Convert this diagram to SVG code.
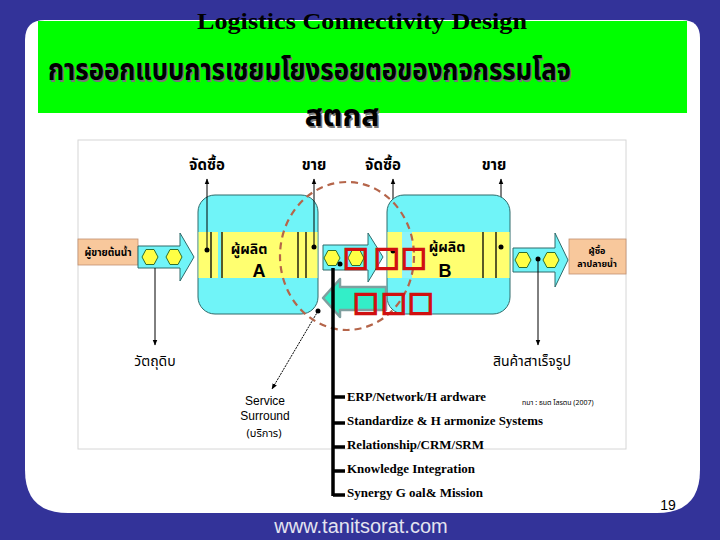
<svg xmlns="http://www.w3.org/2000/svg" width="720" height="540" viewBox="0 0 720 540">
<defs>
<style>
.cy{fill:#70F4F8;stroke:#2F6A6A;stroke-width:1}
.yl{fill:#FFFF70}
.bl{stroke:#000;stroke-width:1.3}
.pe{fill:#F8C89C;stroke:#C09070;stroke-width:0.8}
.th{font-family:"Noto Sans Thai","Noto Serif Thai","Loma","Garuda","Liberation Serif","DejaVu Serif",serif;fill:#000}
.sv{font-family:"Liberation Sans",Arial,sans-serif;fill:#000}
.bt{font-family:"Liberation Serif","Times New Roman",serif;font-weight:bold;font-size:13px;fill:#000}
.ln{stroke:#000;stroke-width:1;fill:none}
.rb{font-family:"DejaVu Sans",sans-serif;fill:#D01010;stroke:#D01010;stroke-width:1.8}
</style>
<marker id="ah" viewBox="0 0 10 10" refX="9" refY="5" markerWidth="6" markerHeight="6" orient="auto" markerUnits="userSpaceOnUse">
<path d="M0,1 L10,5 L0,9 Z" fill="#000"/>
</marker>
<polygon id="hex" points="-8,0 -4,-7.5 4,-7.5 8,0 4,7.5 -4,7.5" fill="#FFFF44" stroke="#2F6F2F" stroke-width="1"/>
</defs>

<rect x="0" y="0" width="720" height="540" fill="#333399"/>
<path d="M45,20 H682 Q700,20 700,38 V470 Q700,513 657,513 H68 Q25,513 25,470 V40 Q25,20 45,20 Z" fill="#FFFFFF"/>
<rect x="38" y="21" width="649" height="92" fill="#00FF00"/>

<g id="title">
<text x="362" y="29" text-anchor="middle" font-family="Liberation Serif,serif" font-weight="bold" font-size="23" textLength="330" lengthAdjust="spacingAndGlyphs">Logistics Connectivity Design</text>
<text x="49.5" y="81.5" class="th" font-weight="bold" font-size="30" style="fill:#777" textLength="523" lengthAdjust="spacingAndGlyphs">การออกแบบการเชยมโยงรอยตอของกจกรรมโลจ</text>
<text x="48" y="80" class="th" font-weight="bold" font-size="30" textLength="523" lengthAdjust="spacingAndGlyphs">การออกแบบการเชยมโยงรอยตอของกจกรรมโลจ</text>
<text x="343.5" y="127.5" class="th" font-weight="bold" font-size="30" text-anchor="middle" style="fill:#777">สตกส</text>
<text x="342" y="126" class="th" font-weight="bold" font-size="30" text-anchor="middle">สตกส</text>
</g>

<rect x="78" y="140" width="548" height="309" fill="#FFFFFF" stroke="#D6D6D6" stroke-width="1"/>

<g id="connectors-under">
<line x1="393" y1="251" x2="393" y2="179" class="ln" marker-end="url(#ah)"/>
<line x1="501" y1="247" x2="501" y2="179" class="ln" marker-end="url(#ah)"/>
</g>

<g id="node-A">
<rect x="198" y="195" width="120" height="119" rx="17" class="cy"/>
<rect x="198.5" y="232" width="119" height="46" class="yl"/>
<rect x="218" y="232" width="3" height="46" fill="#70F4F8"/>
<line x1="211" y1="232" x2="211" y2="278" class="bl"/>
<line x1="222" y1="232" x2="222" y2="278" class="bl"/>
<line x1="298" y1="232" x2="298" y2="278" class="bl"/>
<line x1="306" y1="232" x2="306" y2="278" class="bl"/>
<text x="249" y="254" class="th" font-weight="bold" font-size="14" text-anchor="middle">ผู้ผลิต</text>
<text x="259" y="277" class="sv" font-weight="bold" font-size="18" text-anchor="middle">A</text>
</g>

<g id="node-B">
<rect x="387" y="195" width="123" height="119" rx="17" class="cy"/>
<rect x="387.5" y="232" width="122" height="46" class="yl"/>
<rect x="402" y="232" width="10" height="46" fill="#8CF4F8"/>
<line x1="483" y1="232" x2="483" y2="278" class="bl"/>
<line x1="496" y1="232" x2="496" y2="278" class="bl"/>
<text x="447" y="252" class="th" font-weight="bold" font-size="14" text-anchor="middle">ผู้ผลิต</text>
<text x="445" y="277" class="sv" font-weight="bold" font-size="18" text-anchor="middle">B</text>
</g>

<g id="node-supplier">
<rect x="78" y="239" width="60" height="26" class="pe"/>
<text x="108" y="256" class="th" font-weight="bold" font-size="10" text-anchor="middle">ผู้ขายต้นน้ำ</text>
</g>

<g id="node-customer">
<rect x="569" y="239" width="57" height="35" class="pe"/>
<text x="597" y="254" class="th" font-weight="bold" font-size="9" text-anchor="middle">ผู้ซื้อ</text>
<text x="597" y="267" class="th" font-weight="bold" font-size="9" text-anchor="middle">ลาปลายน้ำ</text>
</g>

<g id="flow-in">
<path d="M138,246 H180 V233 L194,257 L180,281 V268 H138 Z" class="cy"/>
<use href="#hex" x="150" y="257"/>
<use href="#hex" x="174" y="257"/>
</g>

<g id="flow-mid">
<path d="M323,245 H368 V233 L383,257 L368,282 V270 H323 Z" class="cy"/>
<use href="#hex" x="332" y="258"/>
<use href="#hex" x="356" y="258"/>
</g>

<g id="flow-out">
<path d="M513,248 H555 V233 L568,260 L555,287 V272 H513 Z" class="cy"/>
<use href="#hex" x="523" y="260"/>
<use href="#hex" x="551" y="260"/>
</g>

<g id="return-arrow">
<path d="M323,298 L340,279 V287 H386 V310 H340 V317 Z" fill="#33EEC8" stroke="#7F9F9F" stroke-width="2.5" stroke-linejoin="round"/>
</g>

<g id="connectors">
<line x1="207" y1="250" x2="207" y2="179" class="ln" marker-end="url(#ah)"/>
<line x1="314" y1="247" x2="314" y2="179" class="ln" marker-end="url(#ah)"/>
<line x1="155" y1="268" x2="155" y2="345" class="ln" marker-end="url(#ah)"/>
<line x1="538" y1="259" x2="538" y2="345" class="ln" marker-end="url(#ah)"/>
<line x1="318" y1="311" x2="272" y2="389" class="ln" stroke-dasharray="2 1" marker-end="url(#ah)"/>
<circle cx="207" cy="250" r="2.5"/>
<circle cx="314" cy="247" r="2.5"/>
<circle cx="393" cy="251" r="2.5"/>
<circle cx="501" cy="247" r="2.5"/>
<circle cx="340" cy="264" r="2.5"/>
<circle cx="538" cy="259" r="2.5"/>
<circle cx="318" cy="311" r="2.5"/>
<ellipse cx="347" cy="256" rx="67" ry="74" fill="none" stroke="#B5654A" stroke-width="2.2" stroke-dasharray="7 5"/>
<path d="M333,268 V496 M333,397 H345 M333,423 H345 M333,447 H345 M333,471 H345 M333,495 H345" fill="none" stroke="#000" stroke-width="3.5"/>
</g>

<g id="labels">
<text x="207" y="170" class="th" font-weight="bold" font-size="15" text-anchor="middle">จัดซื้อ</text>
<text x="314" y="170" class="th" font-weight="bold" font-size="15" text-anchor="middle">ขาย</text>
<text x="383" y="170" class="th" font-weight="bold" font-size="15" text-anchor="middle">จัดซื้อ</text>
<text x="494" y="170" class="th" font-weight="bold" font-size="15" text-anchor="middle">ขาย</text>
<text x="155" y="366" class="th" font-size="14" text-anchor="middle">วัตถุดิบ</text>
<text x="532" y="366" class="th" font-size="14" text-anchor="middle">สินค้าสาเร็จรูป</text>
<text x="265" y="405" class="sv" font-size="12" text-anchor="middle">Service</text>
<text x="265" y="420" class="sv" font-size="12" text-anchor="middle">Surround</text>
<text x="264" y="437" class="th" font-size="11" text-anchor="middle">(บริการ)</text>
<text x="522" y="405" class="th" font-size="7">ทมา  : ธนต  โสรตน   (2007)</text>
</g>

<g id="red-boxes">
<text x="343 374 401" y="266" class="rb" font-size="27">□□□</text>
<text x="353 381 408" y="311" class="rb" font-size="27">□□□</text>
</g>

<g id="list">
<text x="347" y="401" class="bt" textLength="139" lengthAdjust="spacingAndGlyphs">ERP/Network/H ardware</text>
<text x="347" y="425" class="bt" textLength="196" lengthAdjust="spacingAndGlyphs">Standardize &amp; H armonize Systems</text>
<text x="347" y="449" class="bt" textLength="137" lengthAdjust="spacingAndGlyphs">Relationship/CRM/SRM</text>
<text x="347" y="473" class="bt" textLength="128" lengthAdjust="spacingAndGlyphs">Knowledge Integration</text>
<text x="347" y="497" class="bt" textLength="136" lengthAdjust="spacingAndGlyphs">Synergy G oal&amp; Mission</text>
</g>

<text x="668" y="510" class="sv" font-size="14" text-anchor="middle">19</text>
<text x="361" y="533" class="sv" font-size="20" text-anchor="middle" style="fill:#E4E4F0">www.tanitsorat.com</text>
</svg>
